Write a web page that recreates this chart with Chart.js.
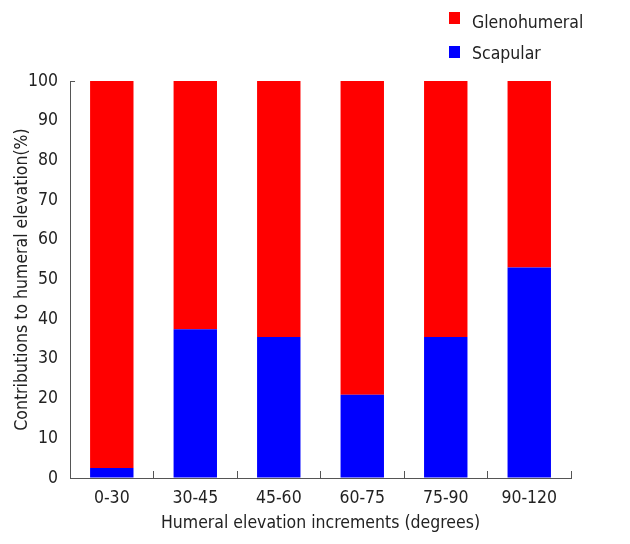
<!DOCTYPE html>
<html>
<head>
<meta charset="utf-8">
<script src="https://cdn.jsdelivr.net/npm/chart.js@4"></script>
<style>
  body { margin: 0; background: #fff; }
</style>
</head>
<body>
<canvas id="myChart" width="630" height="544"></canvas>
<script>
const categories = ["0-30", "30-45", "45-60", "60-75", "75-90", "90-120"];
const scapular = [2.5, 37.5, 35.5, 21, 35.5, 53];
const glenohumeral = [97.5, 62.5, 64.5, 79, 64.5, 47];
const yTicks = [0, 10, 20, 30, 40, 50, 60, 70, 80, 90, 100];

const fontFamily = "'DejaVu Sans Condensed', 'DejaVu Sans', sans-serif";

// legend drawn by hand so it stacks vertically in the top right
const legendPlugin = {
  id: "cornerLegend",
  afterDraw(chart) {
    const ctx = chart.ctx;
    const items = chart.data.datasets.slice().reverse();
    ctx.save();
    ctx.font = "17.5px " + fontFamily;
    ctx.textBaseline = "alphabetic";
    items.forEach((ds, i) => {
      const top = 12 + i * 34;
      ctx.fillStyle = ds.backgroundColor;
      ctx.fillRect(449, top, 11, 12);
      ctx.fillStyle = "#222";
      ctx.fillText(ds.label, 472, 28 + i * 31);
    });
    ctx.restore();
  },
};

const data = {
  labels: categories,
  datasets: [
    {
      label: "Scapular",
      backgroundColor: "#0000ff",
      data: scapular,
    },
    {
      label: "Glenohumeral",
      backgroundColor: "#ff0000",
      data: glenohumeral,
    },
  ],
};

const config = {
  type: "bar",
  data: data,
  options: {
    responsive: false,
    animation: false,
    layout: { padding: { top: 81, right: 59, left: 12, bottom: 10 } },
    plugins: {
      legend: { display: false },
      tooltip: { enabled: false },
    },
    datasets: {
      bar: { barPercentage: 0.52, categoryPercentage: 1 },
    },
    scales: {
      x: {
        stacked: true,
        grid: {
          offset: true,
          drawOnChartArea: false,
          tickLength: -7,
          color: "#555",
        },
        border: { color: "#555" },
        ticks: {
          color: "#222",
          padding: 17,
          font: { family: fontFamily, size: 17.5 },
        },
        title: {
          display: true,
          text: "Humeral elevation increments (degrees)",
          color: "#222",
          padding: { top: -13, bottom: 0 },
          font: { family: fontFamily, size: 17.5 },
        },
      },
      y: {
        stacked: true,
        min: 0,
        max: 100,
        afterBuildTicks: (scale) => {
          scale.ticks = yTicks.map((v) => ({ value: v }));
        },
        // only the top tick mark is drawn, pointing inwards
        grid: {
          drawOnChartArea: false,
          tickLength: -5,
          color: (c) => (c.tick && c.tick.value === 100 ? "#555" : "rgba(0,0,0,0)"),
        },
        border: { color: "#555" },
        ticks: {
          color: "#222",
          padding: 17,
          font: { family: fontFamily, size: 17.5 },
        },
        title: {
          display: true,
          text: "Contributions to humeral elevation(%)",
          color: "#222",
          padding: { top: 0, bottom: -22 },
          font: { family: fontFamily, size: 17.5 },
        },
      },
    },
  },
  plugins: [legendPlugin],
};

const myChart = new Chart(document.getElementById("myChart"), config);
</script>
</body>
</html>
